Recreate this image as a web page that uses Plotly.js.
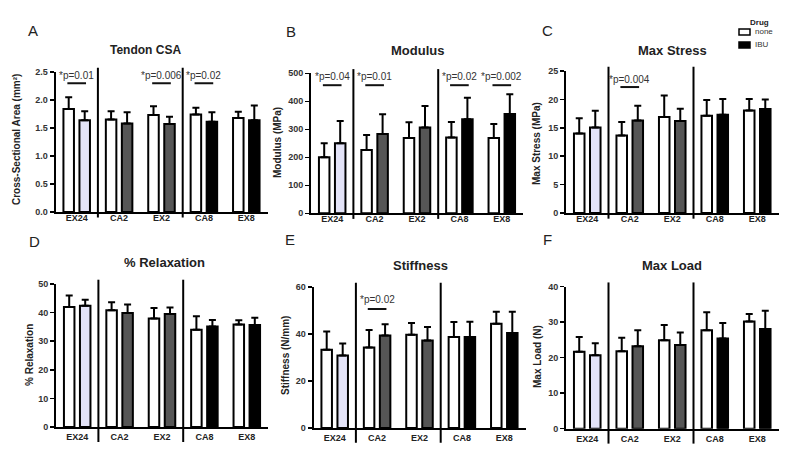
<!DOCTYPE html>
<html><head><meta charset="utf-8">
<script src="https://cdn.plot.ly/plotly-3.0.1.min.js"></script>
<style>html,body{margin:0;padding:0;background:#fff}#chart{width:800px;height:462px}</style>
</head><body><div id="chart"></div>
<script>
// ---------- data ----------
const categories = ['EX24', 'CA2', 'EX2', 'CA8', 'EX8'];
const seriesNames = ['none', 'IBU'];

// A: Tendon CSA (mm^2)
const csaNone = [1.84, 1.65, 1.73, 1.74, 1.68];
const csaNoneSD = [0.21, 0.15, 0.16, 0.12, 0.11];
const csaIbu = [1.64, 1.58, 1.57, 1.61, 1.64];
const csaIbuSD = [0.16, 0.20, 0.13, 0.17, 0.26];
const csaSigCats = ['EX24', 'EX2', 'CA8'];
const csaSigText = ['*p=0.01', '*p=0.006', '*p=0.02'];

// B: Modulus (MPa)
const modNone = [200, 226, 269, 271, 269];
const modNoneSD = [50, 54, 56, 55, 50];
const modIbu = [250, 283, 306, 336, 355];
const modIbuSD = [80, 71, 77, 77, 70];
const modSigCats = ['EX24', 'CA2', 'CA8', 'EX8'];
const modSigText = ['*p=0.04', '*p=0.01', '*p=0.02', '*p=0.002'];

// C: Max Stress (MPa)
const stressNone = [14.0, 13.65, 16.9, 17.1, 18.05];
const stressNoneSD = [2.7, 2.35, 3.8, 2.8, 2.0];
const stressIbu = [15.05, 16.3, 16.2, 17.3, 18.3];
const stressIbuSD = [2.95, 2.6, 2.15, 2.75, 1.7];
const stressSigCats = ['CA2'];
const stressSigText = ['*p=0.004'];

// D: % Relaxation
const relaxNone = [42.0, 40.8, 37.9, 34.0, 35.8];
const relaxNoneSD = [4.0, 2.8, 3.7, 4.7, 1.5];
const relaxIbu = [42.4, 39.9, 39.5, 35.1, 35.7];
const relaxIbuSD = [2.1, 2.9, 2.3, 2.3, 2.5];
const relaxSigCats = [];
const relaxSigText = [];

// E: Stiffness (N/mm)
const stiffNone = [33.3, 34.3, 39.7, 38.7, 44.4];
const stiffNoneSD = [7.8, 7.4, 5.0, 6.4, 5.1];
const stiffIbu = [30.9, 39.4, 37.2, 38.7, 40.4];
const stiffIbuSD = [5.1, 4.7, 5.8, 6.5, 9.1];
const stiffSigCats = ['CA2'];
const stiffSigText = ['*p=0.02'];

// F: Max Load (N)
const loadNone = [21.7, 21.8, 24.9, 27.7, 30.2];
const loadNoneSD = [4.1, 3.8, 4.3, 5.1, 2.1];
const loadIbu = [20.7, 23.2, 23.6, 25.4, 28.1];
const loadIbuSD = [3.4, 4.5, 3.5, 4.4, 5.1];
const loadSigCats = [];
const loadSigText = [];

// ---------- panel definitions ----------
const panels = [
  {letter: 'A', title: 'Tendon CSA', ytitle: 'Cross-Sectional Area (mm²)',
   none: csaNone, noneSD: csaNoneSD, ibu: csaIbu, ibuSD: csaIbuSD, range: [0, 2.5], dtick: 0.5, fmt: '.1f',
   sigCats: csaSigCats, sigText: csaSigText},
  {letter: 'B', title: 'Modulus', ytitle: 'Modulus (MPa)',
   none: modNone, noneSD: modNoneSD, ibu: modIbu, ibuSD: modIbuSD, range: [0, 500], dtick: 100, fmt: '',
   sigCats: modSigCats, sigText: modSigText},
  {letter: 'C', title: 'Max Stress', ytitle: 'Max Stress (MPa)',
   none: stressNone, noneSD: stressNoneSD, ibu: stressIbu, ibuSD: stressIbuSD, range: [0, 25], dtick: 5, fmt: '',
   sigCats: stressSigCats, sigText: stressSigText},
  {letter: 'D', title: '% Relaxation', ytitle: '% Relaxation',
   none: relaxNone, noneSD: relaxNoneSD, ibu: relaxIbu, ibuSD: relaxIbuSD, range: [0, 50], dtick: 10, fmt: '',
   sigCats: relaxSigCats, sigText: relaxSigText},
  {letter: 'E', title: 'Stiffness', ytitle: 'Stiffness (N/mm)',
   none: stiffNone, noneSD: stiffNoneSD, ibu: stiffIbu, ibuSD: stiffIbuSD, range: [0, 60], dtick: 20, fmt: '',
   sigCats: stiffSigCats, sigText: stiffSigText},
  {letter: 'F', title: 'Max Load', ytitle: 'Max Load (N)',
   none: loadNone, noneSD: loadNoneSD, ibu: loadIbu, ibuSD: loadIbuSD, range: [0, 40], dtick: 10, fmt: '',
   sigCats: loadSigCats, sigText: loadSigText}
];

// ---------- geometry / styles (pixels) ----------
const W = 800, H = 462;
const ibuColors = ['#e3e3f8', '#565656', '#565656', '#000000', '#000000'];
const FONT = 'Liberation Sans, Arial, sans-serif';
const geo = [
  {x: [55.5, 267.5], y: [72, 212],     letter: [33, 30],  title: [145, 50],  ytitle: [17, 140],  sigT: 0.978, sigL: 0.92,  lab: -4, sepB: -0.04, tsize: 12},
  {x: [311, 523],    y: [73.3, 213.3], letter: [291, 31], title: [417, 50],  ytitle: [277, 143], sigT: 0.975, sigL: 0.915, lab: -4, sepB: -0.04, tsize: 13},
  {x: [566, 778.5],  y: [71, 213],     letter: [547, 30], title: [672, 50],  ytitle: [536, 144], sigT: 0.937, sigL: 0.887, lab: -4, sepB: -0.04, tsize: 13},
  {x: [56, 268],     y: [284, 427],    letter: [34, 241], title: [164, 262], ytitle: [29, 355],  sigT: 0.95,  sigL: 0.9,   lab: 0,  sepB: -0.105, tsize: 13},
  {x: [313.5, 525.5],y: [287, 428],    letter: [290, 240],title: [420, 265], ytitle: [285, 356], sigT: 0.908, sigL: 0.844, lab: 0,  sepB: -0.105, tsize: 13},
  {x: [566, 778.5],  y: [286.7, 428.7],letter: [547, 240],title: [672, 265], ytitle: [537, 357], sigT: 0.95,  sigL: 0.9,   lab: 0,  sepB: -0.105, tsize: 13}
];
const px = v => v / W;
const py = v => 1 - v / H;

const traces = [];
const layout = {
  width: W, height: H, margin: {l: 0, r: 0, t: 0, b: 0},
  paper_bgcolor: '#fff', plot_bgcolor: 'rgba(0,0,0,0)',
  barmode: 'group', bargap: 0.245, bargroupgap: 0.343,
  showlegend: false, font: {family: FONT, color: '#111'},
  annotations: [], shapes: []
};

panels.forEach((p, i) => {
  const n = i + 1, g = geo[i];
  const xa = 'x' + (n === 1 ? '' : n), ya = 'y' + (n === 1 ? '' : n);
  const xk = 'xaxis' + (n === 1 ? '' : n), yk = 'yaxis' + (n === 1 ? '' : n);
  traces.push({
    type: 'bar', name: seriesNames[0], x: categories, y: p.none, xaxis: xa, yaxis: ya,
    marker: {color: '#ffffff', line: {color: '#000', width: 2}},
    error_y: {type: 'data', symmetric: false, array: p.noneSD, arrayminus: p.noneSD.map(() => 0),
              color: '#000', thickness: 2, width: 3.5},
    hoverinfo: 'x+y'
  });
  traces.push({
    type: 'bar', name: seriesNames[1], x: categories, y: p.ibu, xaxis: xa, yaxis: ya,
    marker: {color: ibuColors, line: {color: '#000', width: 2}},
    error_y: {type: 'data', symmetric: false, array: p.ibuSD, arrayminus: p.ibuSD.map(() => 0),
              color: '#000', thickness: 2, width: 3.5},
    hoverinfo: 'x+y'
  });
  layout[xk] = {
    domain: [px(g.x[0]), px(g.x[1])], anchor: ya, type: 'category', range: [-0.5, 4.5],
    showline: true, linecolor: '#000', linewidth: 2, ticks: '', showgrid: false, zeroline: false,
    tickfont: {family: FONT, size: 9, color: '#222', weight: 'bold'}, ticklabelstandoff: g.lab, fixedrange: true
  };
  layout[yk] = {
    domain: [py(g.y[1]), py(g.y[0])], anchor: xa, range: p.range, dtick: p.dtick, tick0: 0,
    tickformat: p.fmt, showline: true, linecolor: '#000', linewidth: 2, ticks: 'outside',
    ticklen: 4, tickwidth: 1.5, tickcolor: '#000', showgrid: false, zeroline: false,
    tickfont: {family: FONT, size: 9, color: '#333', weight: 'bold'}, fixedrange: true
  };
  // separators between groups
  [0.5, 2.5].forEach(xv => layout.shapes.push({
    type: 'line', xref: xa, yref: ya + ' domain', x0: xv, x1: xv, y0: g.sepB, y1: 1.03,
    line: {color: '#000', width: 2}
  }));
  // significance brackets
  p.sigCats.forEach((c, k) => {
    const idx = categories.indexOf(c);
    layout.shapes.push({type: 'line', xref: xa, yref: ya + ' domain', x0: idx - 0.22, x1: idx + 0.22,
      y0: g.sigL, y1: g.sigL, line: {color: '#111', width: 2}});
    layout.annotations.push({xref: xa, yref: ya + ' domain', x: idx, y: g.sigT, showarrow: false,
      text: p.sigText[k], font: {family: FONT, size: 10, color: '#333'},
      xanchor: 'center', yanchor: 'middle'});
  });
  // panel letter
  layout.annotations.push({xref: 'paper', yref: 'paper', x: px(g.letter[0]), y: py(g.letter[1]),
    text: p.letter, showarrow: false, xanchor: 'center', yanchor: 'middle',
    font: {family: FONT, size: 15, color: '#222'}});
  // panel title
  layout.annotations.push({xref: 'paper', yref: 'paper', x: px(g.title[0]), y: py(g.title[1]),
    text: p.title, showarrow: false, xanchor: 'center', yanchor: 'middle',
    font: {family: FONT, size: g.tsize, color: '#222', weight: 'bold'}});
  // y-axis title
  layout.annotations.push({xref: 'paper', yref: 'paper', x: px(g.ytitle[0]), y: py(g.ytitle[1]),
    text: p.ytitle, showarrow: false, textangle: -90, xanchor: 'center', yanchor: 'middle',
    font: {family: FONT, size: 10, color: '#222', weight: 'bold'}});
});

// legend (Drug: none / IBU)
layout.annotations.push({xref: 'paper', yref: 'paper', x: px(759), y: py(22), text: 'Drug',
  showarrow: false, xanchor: 'center', yanchor: 'middle', font: {family: FONT, size: 8, color: '#222', weight: 'bold'}});
[['#ffffff', 32, seriesNames[0]], ['#000000', 45, seriesNames[1]]].forEach(([col, yc, lab]) => {
  layout.shapes.push({type: 'rect', xref: 'paper', yref: 'paper', x0: px(739), x1: px(750),
    y0: py(yc + 3), y1: py(yc - 3), fillcolor: col, line: {color: '#000', width: 1.5}});
  layout.annotations.push({xref: 'paper', yref: 'paper', x: px(753), y: py(yc), text: lab,
    showarrow: false, xanchor: 'left', yanchor: 'middle', font: {family: FONT, size: 8, color: '#333'}});
});

Plotly.newPlot('chart', traces, layout, {staticPlot: true, displayModeBar: false});
</script>
</body></html>
